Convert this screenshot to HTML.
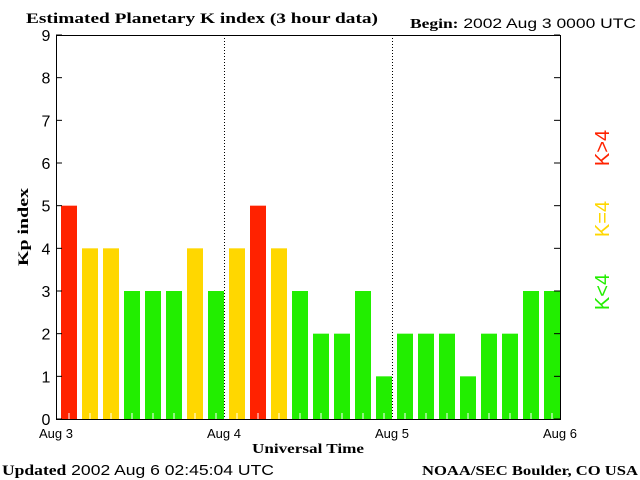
<!DOCTYPE html>
<html><head><meta charset="utf-8"><style>
body{margin:0;background:#fff;}
svg{display:block;}
text{font-family:"Liberation Sans",sans-serif;}
.serif{font-family:"Liberation Serif",serif;font-weight:bold;}
</style></head><body>
<svg id="chart" width="640" height="480">
<text class="serif" x="26" y="23" font-size="15" textLength="352" lengthAdjust="spacingAndGlyphs">Estimated Planetary K index (3 hour data)</text>
<text x="410" y="28" font-size="14" textLength="226" lengthAdjust="spacingAndGlyphs"><tspan class="serif">Begin:</tspan>  2002 Aug 3 0000 UTC</text>
<text class="serif" x="28" y="227" font-size="15" textLength="78" lengthAdjust="spacingAndGlyphs" transform="rotate(-90 28 227)" text-anchor="middle">Kp index</text>
<text class="serif" x="308" y="453" font-size="14" textLength="112" lengthAdjust="spacingAndGlyphs" text-anchor="middle">Universal Time</text>
<text x="2" y="475" font-size="15" textLength="272" lengthAdjust="spacingAndGlyphs"><tspan class="serif">Updated</tspan> 2002 Aug  6 02:45:04 UTC</text>
<text class="serif" x="422" y="475" font-size="14" textLength="216" lengthAdjust="spacingAndGlyphs">NOAA/SEC Boulder, CO USA</text>
<g font-size="20">
<text x="609" y="292" fill="#22ee00" transform="rotate(-90 609 292)" text-anchor="middle">K&lt;4</text>
<text x="609" y="219" fill="#ffd700" transform="rotate(-90 609 219)" text-anchor="middle">K=4</text>
<text x="609" y="148" fill="#ff2200" transform="rotate(-90 609 148)" text-anchor="middle">K&gt;4</text>
</g>
<g id="plot"></g>
</svg>
<script>
const kpValues=[5,4,4,3,3,3,4,3,4,5,4,3,2,2,3,1,2,2,2,1,2,2,3,3];
const yTicks=[0,1,2,3,4,5,6,7,8,9];
const dayLabels=["Aug 3","Aug 4","Aug 5","Aug 6"];
const NS="http://www.w3.org/2000/svg";
const L=56,R=560,T=35,B=419;
const slot=(R-L)/kpValues.length;
function xs(i){return L+i*slot;}
function ys(v){return B-(B-T)*v/9;}
const g=document.getElementById('plot');
function mk(t,a){const e=document.createElementNS(NS,t);for(const k in a)e.setAttribute(k,a[k]);g.appendChild(e);return e;}
kpValues.forEach((v,i)=>{
 const c=v>4?'#ff2200':v==4?'#ffd700':'#22ee00';
 const r=mk('rect',{x:xs(i)+5,y:ys(v),width:16,height:B-ys(v),fill:c});
 
 
 mk('line',{x1:xs(i)+13,x2:xs(i)+13,y1:B-6,y2:B,stroke:'#fff'});
});
for(let d=1;d<dayLabels.length-1;d++){
 const x=L+d*(R-L)/(dayLabels.length-1)+0.5;
 const l=mk('line',{x1:x,x2:x,y1:T,y2:B,stroke:'#000','stroke-dasharray':'1,2'});
 
 
}
const f=mk('rect',{x:L+0.5,y:T+0.5,width:R-L,height:B-T,fill:'none',stroke:'#000'});


yTicks.forEach(v=>{
 const y=ys(v);
 mk('line',{x1:L,x2:L+6,y1:y,y2:y,stroke:'#000'});
 mk('line',{x1:R-6,x2:R,y1:y,y2:y,stroke:'#000'});
 const t=mk('text',{x:46,y:y+6,'font-size':'16','text-anchor':'middle'});t.textContent=v;
 
 
});
dayLabels.forEach((s,d)=>{
 const x=L+d*(R-L)/(dayLabels.length-1);
 const t=mk('text',{x:x,y:438,'font-size':'13','text-anchor':'middle'});t.textContent=s;
 
 
});
</script>
</body></html>
